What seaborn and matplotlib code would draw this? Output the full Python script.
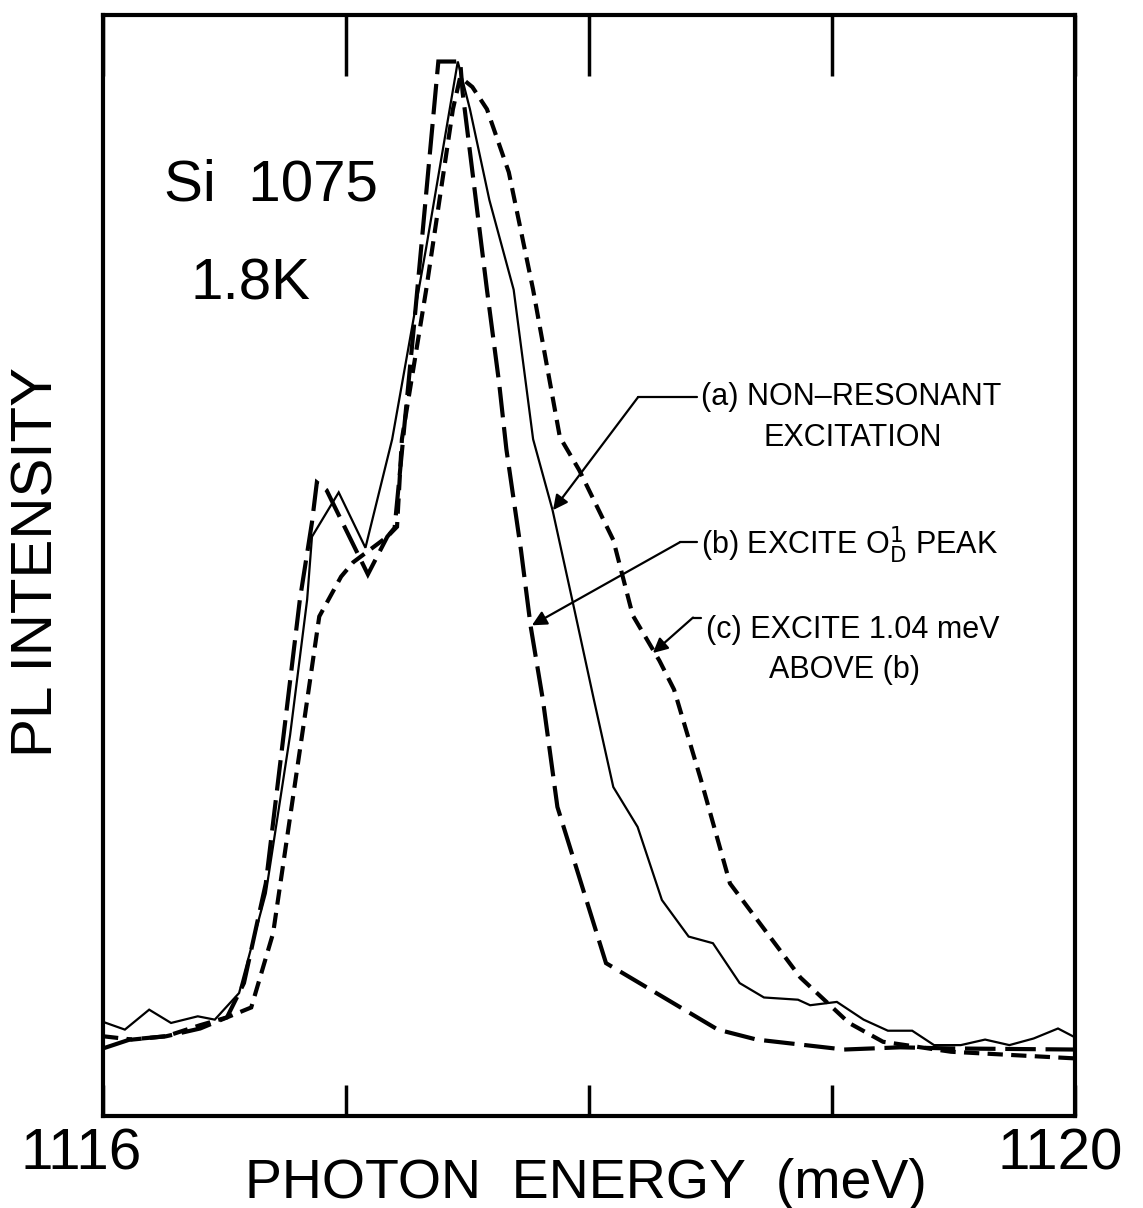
import matplotlib
matplotlib.use("Agg")
import matplotlib.pyplot as plt
import matplotlib.transforms as mtransforms
import seaborn as sns
import pandas as pd

# ---------------- data (photon energy in meV, PL intensity arb. units) ----------------
energy_a = [1116.00, 1116.09, 1116.19, 1116.28, 1116.39, 1116.46, 1116.56, 1116.67, 1116.77,
            1116.84, 1116.86, 1116.97, 1117.08, 1117.19, 1117.33, 1117.46, 1117.51, 1117.59,
            1117.69, 1117.77, 1117.85, 1117.94, 1118.02, 1118.10, 1118.20, 1118.30, 1118.41,
            1118.51, 1118.62, 1118.72, 1118.86, 1118.91, 1119.02, 1119.13, 1119.23, 1119.33,
            1119.42, 1119.53, 1119.63, 1119.73, 1119.83, 1119.93, 1120.00]
intensity_a = [0.086, 0.079, 0.097, 0.085, 0.091, 0.088, 0.112, 0.202, 0.345,
               0.467, 0.524, 0.564, 0.514, 0.612, 0.785, 0.953, 0.910, 0.828,
               0.747, 0.612, 0.548, 0.458, 0.377, 0.298, 0.262, 0.196, 0.163,
               0.157, 0.121, 0.108, 0.106, 0.101, 0.104, 0.088, 0.078, 0.078,
               0.065, 0.065, 0.070, 0.065, 0.071, 0.080, 0.072]

energy_b = [1116.00, 1116.11, 1116.26, 1116.40, 1116.51, 1116.58, 1116.67, 1116.81, 1116.86,
            1116.88, 1116.92, 1117.09, 1117.17, 1117.20, 1117.28, 1117.38, 1117.47, 1117.48,
            1117.58, 1117.63, 1117.66, 1117.72, 1117.76, 1117.81, 1117.87, 1118.07, 1118.53,
            1118.69, 1119.05, 1119.28, 1119.49, 1120.00]
intensity_b = [0.062, 0.070, 0.073, 0.080, 0.090, 0.121, 0.211, 0.467, 0.537,
               0.573, 0.566, 0.490, 0.524, 0.532, 0.715, 0.953, 0.953, 0.925,
               0.747, 0.663, 0.603, 0.512, 0.443, 0.377, 0.280, 0.139, 0.079,
               0.070, 0.061, 0.063, 0.062, 0.061]

energy_c = [1116.00, 1116.12, 1116.26, 1116.40, 1116.51, 1116.61, 1116.70, 1116.83, 1116.89,
            1116.98, 1117.03, 1117.17, 1117.21, 1117.23, 1117.33, 1117.44, 1117.47, 1117.52,
            1117.58, 1117.67, 1117.77, 1117.88, 1117.96, 1118.10, 1118.18, 1118.29, 1118.35,
            1118.46, 1118.58, 1118.87, 1119.07, 1119.21, 1119.49, 1120.00]
intensity_c = [0.073, 0.070, 0.073, 0.083, 0.090, 0.099, 0.166, 0.361, 0.452,
               0.488, 0.501, 0.524, 0.533, 0.612, 0.747, 0.910, 0.939, 0.930,
               0.910, 0.853, 0.747, 0.614, 0.584, 0.521, 0.453, 0.412, 0.386,
               0.305, 0.211, 0.126, 0.085, 0.068, 0.059, 0.053]

x_ticks = [1116, 1117, 1118, 1119, 1120]
x_tick_labels = ["1116", "", "", "", "1120"]

# ---------------- styling ----------------
sns.set_theme(style="white")
plt.rcParams["font.family"] = ["Liberation Sans", "DejaVu Sans"]
plt.rcParams["lines.scale_dashes"] = False
plt.rcParams["text.color"] = "black"
plt.rcParams["axes.labelcolor"] = "black"
plt.rcParams["xtick.color"] = "black"

fig = plt.figure(figsize=(11.43, 12.08), dpi=100)
ax = fig.add_axes([103 / 1143, 92 / 1208, 972 / 1143, 1101 / 1208])

df_a = pd.DataFrame({"E": energy_a, "I": intensity_a})
df_b = pd.DataFrame({"E": energy_b, "I": intensity_b})
df_c = pd.DataFrame({"E": energy_c, "I": intensity_c})

sns.lineplot(data=df_a, x="E", y="I", ax=ax, sort=False, color="black", lw=1.6)
sns.lineplot(data=df_b, x="E", y="I", ax=ax, sort=False, color="black", lw=3.0)
ax.lines[-1].set_dashes((22, 7))
sns.lineplot(data=df_c, x="E", y="I", ax=ax, sort=False, color="black", lw=3.0)
ax.lines[-1].set_dashes((11, 6))
for ln in ax.lines:
    ln.set_solid_joinstyle("miter")
    ln.set_dash_joinstyle("miter")

ax.set_xlim(1116, 1120)
ax.set_ylim(0.001, 0.995)
ax.set_yticks([])
ax.set_xticks(x_ticks)
ax.set_xticklabels(x_tick_labels, fontsize=42)
ax.tick_params(axis="x", direction="in", top=True, bottom=True, length=22, width=2.5,
               pad=8, colors="black")
for t in ax.xaxis.get_major_ticks():
    t.tick2line.set_markersize(44)
offs = [-22, 0, 0, 0, -15]
for lab, o in zip(ax.get_xticklabels(), offs):
    lab.set_transform(lab.get_transform() + mtransforms.ScaledTranslation(o / 100, 0, fig.dpi_scale_trans))

for sp in ax.spines.values():
    sp.set_visible(True)
    sp.set_color("black")
    sp.set_linewidth(3.0)

ax.set_xlabel("PHOTON  ENERGY  (meV)", fontsize=40)
ax.xaxis.set_label_coords(0.497, -0.038)
ax.set_ylabel("PL INTENSITY", fontsize=42)
ax.yaxis.set_label_coords(-0.040, 0.503)

ax.text(0.063, 0.845, "Si  1075", transform=ax.transAxes, fontsize=42, va="center", ha="left")
ax.text(0.090, 0.755, "1.8K", transform=ax.transAxes, fontsize=42, va="center", ha="left")

fs = 22
arrow = dict(arrowstyle="-|>", color="black", lw=1.6, mutation_scale=22, shrinkA=0, shrinkB=0)
# (a)
ax.plot([1118.202, 1118.444], [0.650, 0.650], color="black", lw=1.6)
ax.annotate("", xy=(1117.852, 0.548), xytext=(1118.202, 0.650), arrowprops=arrow)
ax.text(1118.46, 0.650, "(a) NON\u2013RESONANT", fontsize=fs, va="center", ha="left")
ax.text(1118.72, 0.613, "EXCITATION", fontsize=fs, va="center", ha="left")
# (b)
ax.plot([1118.374, 1118.444], [0.519, 0.519], color="black", lw=1.6)
ax.annotate("", xy=(1117.765, 0.444), xytext=(1118.374, 0.519), arrowprops=arrow)
ax.text(1118.46, 0.517, "(b) EXCITE O$^{1}_{\\mathrm{D}}$ PEAK", fontsize=fs, va="center", ha="left")
# (c)
ax.plot([1118.428, 1118.46], [0.451, 0.451], color="black", lw=1.6)
ax.annotate("", xy=(1118.263, 0.419), xytext=(1118.428, 0.451), arrowprops=arrow)
ax.text(1118.48, 0.440, "(c) EXCITE 1.04 meV", fontsize=fs, va="center", ha="left")
ax.text(1118.74, 0.404, "ABOVE (b)", fontsize=fs, va="center", ha="left")

fig.savefig("out.png", dpi=100, facecolor="white")
